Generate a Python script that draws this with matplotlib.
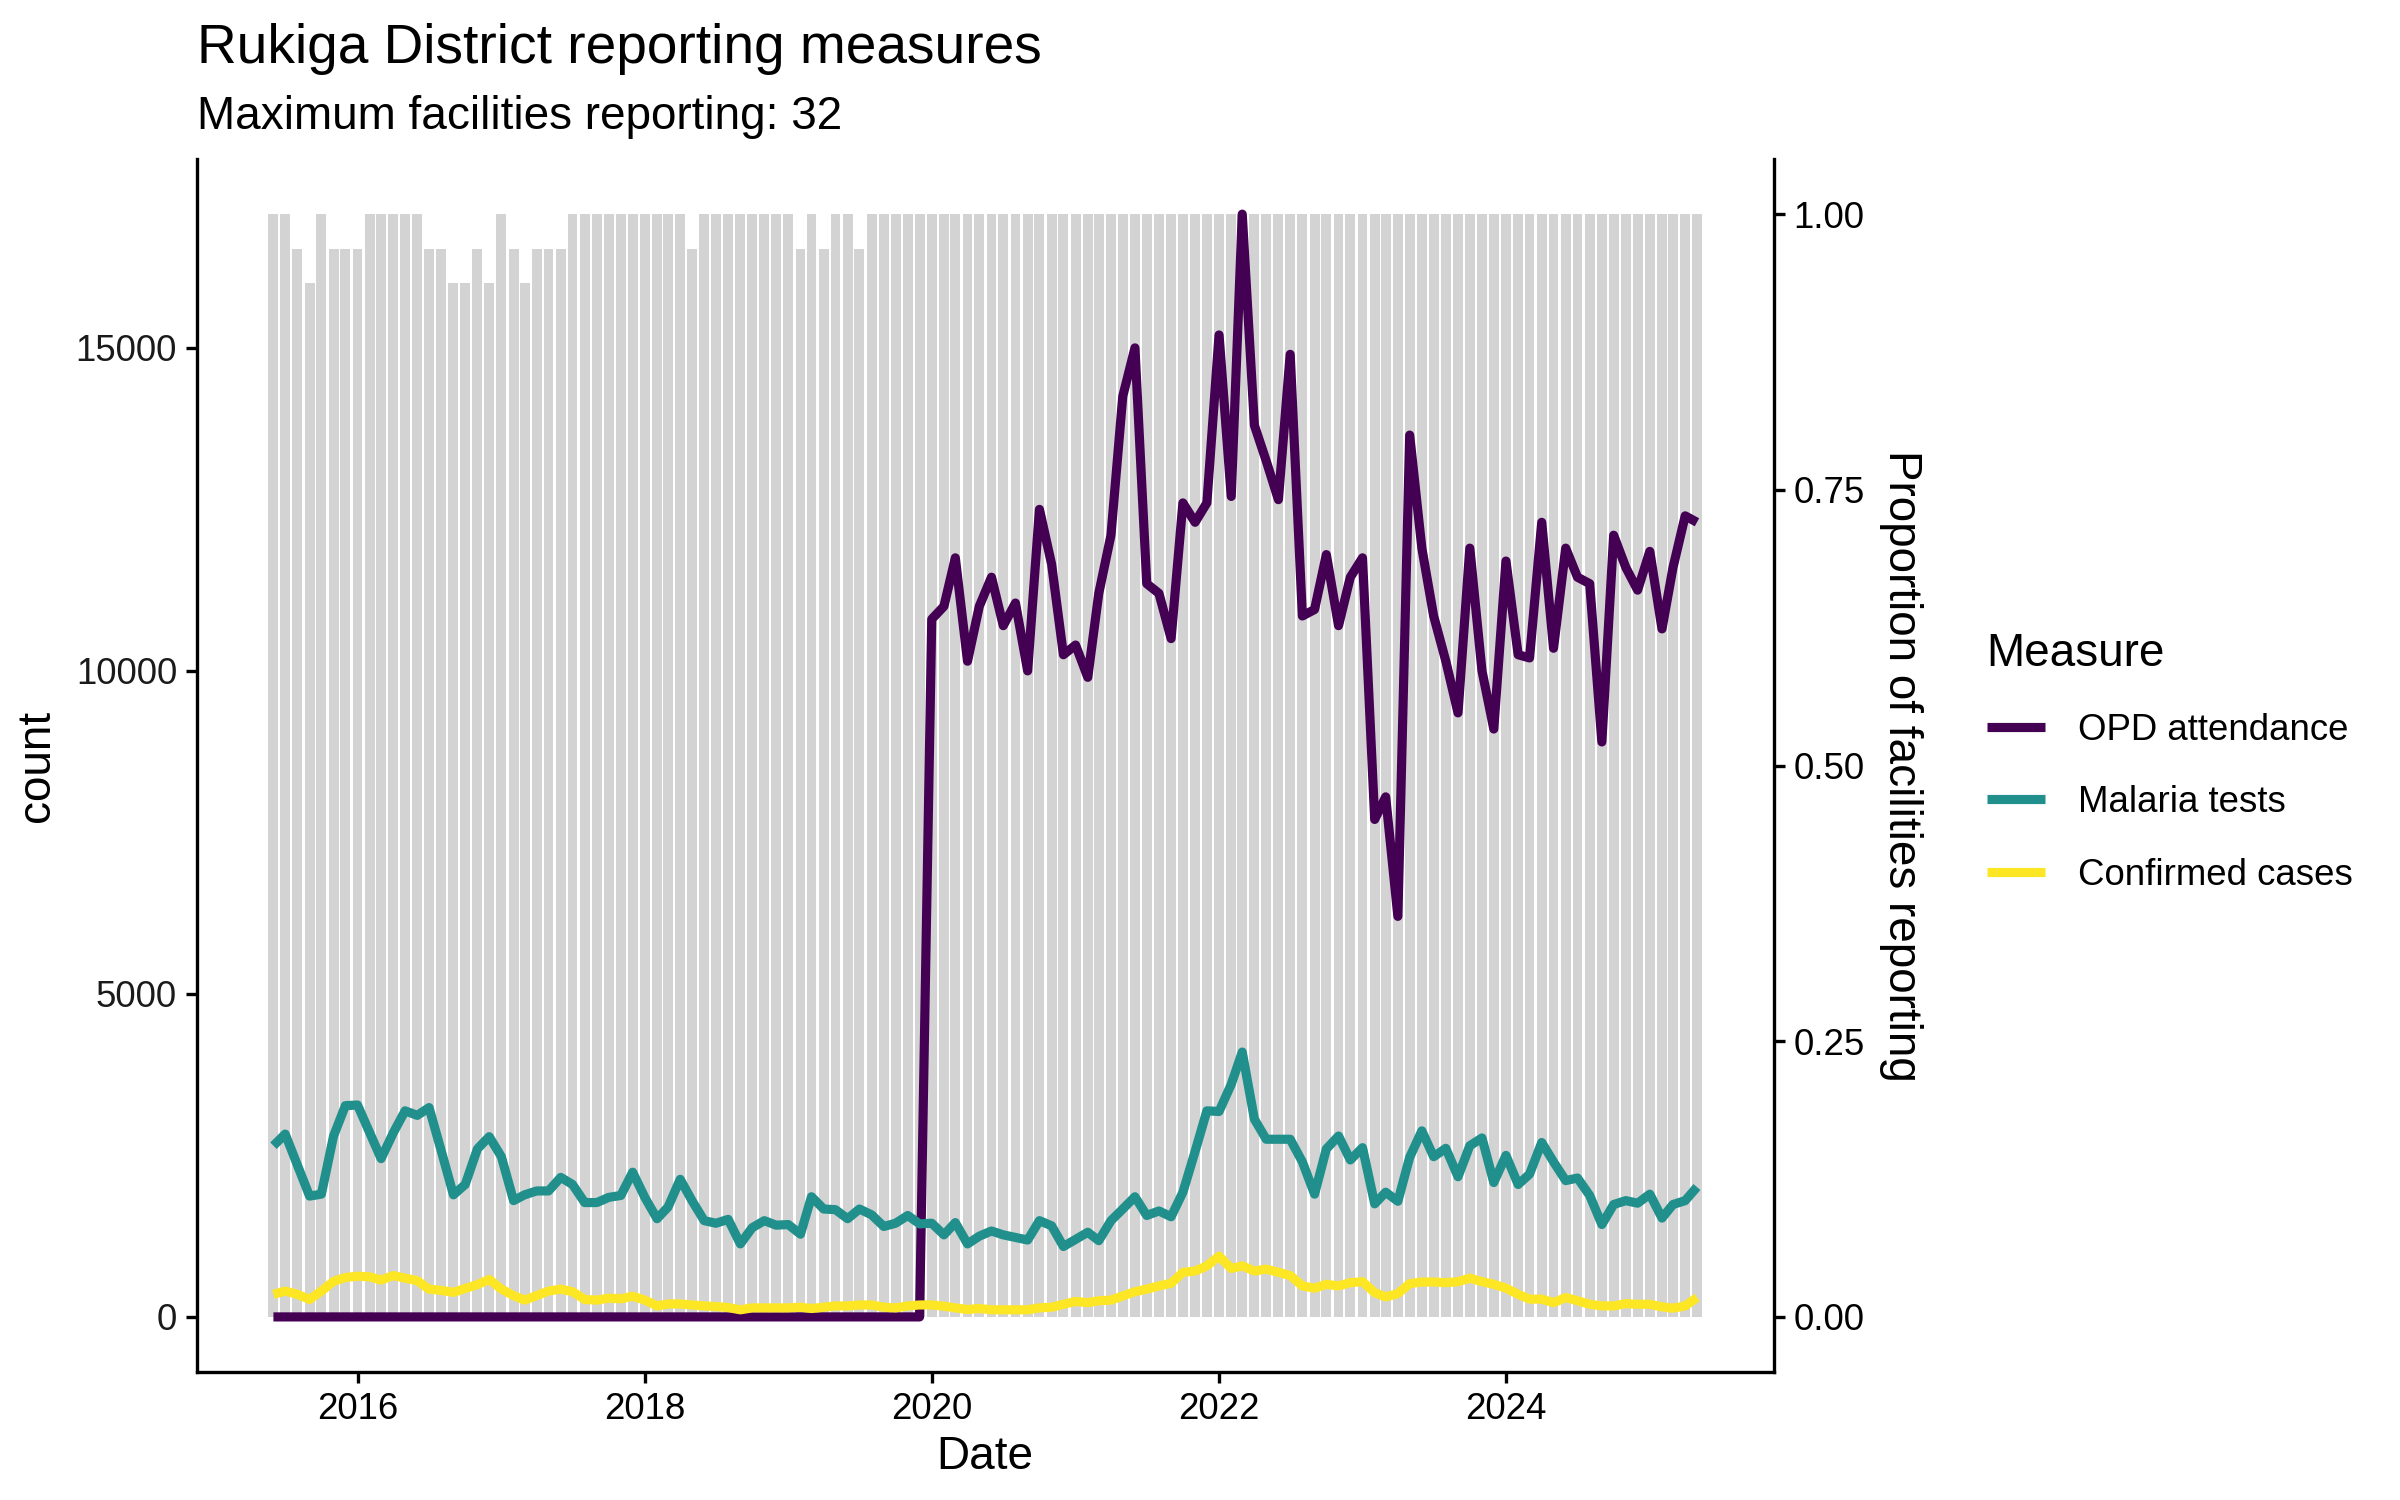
import numpy as np
import pandas as pd
import matplotlib
matplotlib.use("Agg")
import matplotlib.pyplot as plt
import matplotlib.dates as mdates

plt.rcParams['font.family'] = ['Liberation Sans', 'DejaVu Sans']

# monthly series, Jun 2015 .. May 2025
dates = pd.date_range('2015-06-01', periods=120, freq='MS')

max_facilities = 32
facilities = ([32, 32, 31, 30, 32, 31, 31, 31, 32, 32, 32, 32, 32, 31, 31, 30, 30, 31, 30, 32,
               31, 30, 31, 31, 31] + [32] * 10 + [31] + [32] * 8 + [31, 32, 31, 32, 32, 31]
              + [32] * 70)

opd = [0] * 55 + [
    10800, 11000, 11750, 10150, 11000, 11450, 10700, 11050, 10000, 12500, 11650, 10250,
    10400, 9900, 11200, 12100, 14250, 15000, 11350, 11200, 10500, 12600, 12300, 12600,
    15200, 12700, 17070, 13800, 13250, 12650, 14900, 10850, 10950, 11800, 10700, 11450,
    11750, 7700, 8050, 6200, 13650, 11900, 10850, 10150, 9350, 11900, 10000, 9100,
    11700, 10250, 10200, 12300, 10350, 11900, 11450, 11350, 8900, 12100, 11600, 11250,
    11850, 10650, 11600, 12400, 12300]

malaria = [
    2650, 2830, 2350, 1870, 1900, 2800, 3270,
    3280, 2850, 2450, 2850, 3190, 3120, 3240, 2570, 1890, 2050, 2600, 2790,
    2480, 1800, 1890, 1950, 1950, 2160, 2050, 1770, 1770, 1850, 1880, 2240,
    1850, 1520, 1700, 2130, 1800, 1490, 1450, 1510, 1130, 1380, 1490, 1420,
    1430, 1280, 1860, 1670, 1660, 1520, 1670, 1580, 1400, 1450, 1570, 1440,
    1450, 1270, 1460, 1130, 1250, 1330, 1270, 1230, 1190, 1490, 1410, 1090,
    1200, 1310, 1180, 1490, 1670, 1860, 1570, 1640, 1550, 1930, 2560, 3190,
    3180, 3600, 4100, 3060, 2750, 2750, 2750, 2400, 1900, 2600, 2800, 2430,
    2620, 1750, 1930, 1790, 2470, 2880, 2480, 2610, 2170, 2650, 2770, 2080,
    2500, 2050, 2210, 2700, 2400, 2110, 2150, 1880, 1430, 1740, 1800, 1760,
    1900, 1530, 1740, 1800, 2010]

confirmed = [
    350, 400, 350, 270, 400, 550, 610,
    630, 620, 570, 640, 600, 560, 430, 410, 380, 440, 500, 580,
    430, 330, 260, 330, 400, 430, 390, 270, 260, 290, 280, 320,
    260, 170, 200, 200, 185, 170, 160, 145, 110, 140, 140, 140,
    140, 150, 130, 150, 170, 170, 185, 185, 150, 140, 170, 185,
    185, 165, 140, 115, 130, 110, 110, 110, 110, 140, 150, 195,
    240, 220, 250, 260, 325, 390, 430, 480, 520, 690, 710, 790,
    940, 750, 790, 710, 740, 690, 640, 480, 445, 505, 480, 530,
    545, 375, 310, 360, 515, 540, 540, 530, 545, 600, 545, 505,
    445, 350, 275, 275, 220, 300, 250, 195, 170, 170, 205, 195,
    195, 155, 135, 170, 300]

measures = ['OPD attendance', 'Malaria tests', 'Confirmed cases']
colors = ['#440154', '#21908C', '#FDE725']
series = [opd, malaria, confirmed]

prop = np.array(facilities) / max_facilities
scale = max(max(s) for s in series)

fig = plt.figure(figsize=(8, 5), dpi=300)
ax = fig.add_axes([0.082, 0.0853, 0.657, 0.8087])

x = mdates.date2num(dates)
ax.bar(x, prop * scale, width=25.2, color='#D3D3D3', zorder=1)
for name, vals, c in zip(measures, series, colors):
    ax.plot(x, vals, color=c, lw=2.2, label=name, solid_joinstyle='round',
            solid_capstyle='butt', zorder=2)

# ggplot-like 5% expansion
x0, x1 = x[0] - 12.6, x[-1] + 12.6
dx = (x1 - x0) * 0.05
ax.set_xlim(x0 - dx, x1 + dx)
ax.set_ylim(-0.05 * scale, 1.05 * scale)

ax.xaxis.set_major_locator(mdates.YearLocator(2))
ax.xaxis.set_major_formatter(mdates.DateFormatter('%Y'))
ax.set_yticks([0, 5000, 10000, 15000])
ax.set_yticklabels(['0', '5000', '10000', '15000'])

for s in ['top', 'right']:
    ax.spines[s].set_visible(False)
for s in ['left', 'bottom']:
    ax.spines[s].set_linewidth(0.8)
ax.tick_params(labelsize=8.8, width=0.8, length=2.75, colors='black', pad=2)
ax.tick_params(axis='y', labelcolor='#1a1a1a')
ax.set_xlabel('Date', fontsize=11, labelpad=2)
ax.set_ylabel('count', fontsize=11, labelpad=4)

ax2 = ax.twinx()
ax2.set_ylim(-0.05, 1.05)
ax2.set_yticks([0, 0.25, 0.5, 0.75, 1.0])
ax2.set_yticklabels(['0.00', '0.25', '0.50', '0.75', '1.00'])
for s in ['top', 'left', 'bottom']:
    ax2.spines[s].set_visible(False)
ax2.spines['right'].set_linewidth(0.8)
ax2.tick_params(labelsize=8.8, width=0.8, length=2.75, pad=2)
ax2.set_ylabel('Proportion of facilities reporting', fontsize=11, rotation=270,
               labelpad=14)

fig.text(0.082, 0.958, 'Rukiga District reporting measures', fontsize=13.2,
         va='baseline', ha='left')
fig.text(0.082, 0.914, 'Maximum facilities reporting: 32', fontsize=11,
         va='baseline', ha='left')

handles, labels = ax.get_legend_handles_labels()
leg = fig.legend(handles, labels, title='Measure', loc='upper left',
                 bbox_to_anchor=(0.814, 0.601), frameon=False, fontsize=8.8,
                 title_fontsize=11, handlelength=1.6, handletextpad=0.9,
                 labelspacing=1.02, alignment='left')
for ln in leg.get_lines():
    ln.set_linewidth(2.2)

fig.savefig('out.png', dpi=300)
